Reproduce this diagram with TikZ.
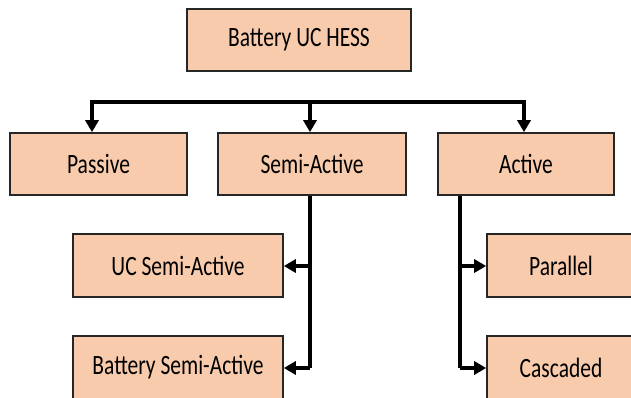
\documentclass[tikz,border=0pt]{standalone}
\usepackage{fontspec}
\setmainfont{Carlito}
\usetikzlibrary{arrows.meta}
\definecolor{peach}{HTML}{F8CBAD}
\definecolor{edge}{HTML}{262626}
\newcommand{\tallt}[1]{\scalebox{1}[1.3]{#1}}
\tikzset{
  box/.style={draw=edge, line width=1.6pt, fill=peach, rectangle, inner sep=0pt,
    font=\fontsize{21.5}{24}\selectfont},
  conn/.style={line width=3.3pt, black},
  arr/.style={conn, -{Triangle[length=12pt,width=13pt]}}
}
\begin{document}
\begin{tikzpicture}[x=1pt,y=1pt]
\useasboundingbox (0,0) rectangle (631,397);
\clip (0,0) rectangle (631,397);
\fill[white] (0,0) rectangle (631,397);
% nodes (y = 397 - pixel y)
\node[box, minimum width=224pt, minimum height=62pt] (top) at (299,357) {\tallt{Battery UC HESS}};
\node[box, minimum width=177pt, minimum height=62pt] (passive) at (98.5,233) {\tallt{Passive}};
\node[box, minimum width=188pt, minimum height=62pt] (semi) at (312,233) {\tallt{Semi-Active}};
\node[box, minimum width=176pt, minimum height=62pt] (active) at (526,233) {\tallt{Active}};
\node[box, minimum width=210pt, minimum height=63pt] (ucsemi) at (178,131.5) {\tallt{UC Semi-Active}};
\node[box, minimum width=210pt, minimum height=63pt] (batsemi) at (178,29.5) {\tallt{Battery Semi-Active}};
\node[box, minimum width=148pt, minimum height=63pt] (parallel) at (561,131.5) {\tallt{Parallel}};
\node[box, minimum width=148pt, minimum height=63pt] (cascaded) at (561,29.5) {\tallt{Cascaded}};
% bus
\coordinate (b1) at (92,295);
\coordinate (b2) at (310,295);
\coordinate (b3) at (524,295);
\draw[conn, line cap=rect] (b1) -- (b3);
\draw[arr] (b1) -- (b1 |- passive.north);
\draw[arr] (b2) -- (b2 |- semi.north);
\draw[arr] (b3) -- (b3 |- active.north);
% semi-active branch
\coordinate (s0) at (310,202);
\coordinate (s1) at (310,131);
\coordinate (s2) at (310,29);
\draw[conn] (s0 |- semi.south) -- (s2);
\draw[arr] (s1) -- (s1 -| ucsemi.east);
\draw[arr] (s2) -- (s2 -| batsemi.east);
% active branch
\coordinate (a0) at (460,202);
\coordinate (a1) at (460,131);
\coordinate (a2) at (460,29);
\draw[conn] (a0 |- active.south) -- (a2);
\draw[arr] (a1) -- (a1 -| parallel.west);
\draw[arr] (a2) -- (a2 -| cascaded.west);
\end{tikzpicture}
\end{document}
